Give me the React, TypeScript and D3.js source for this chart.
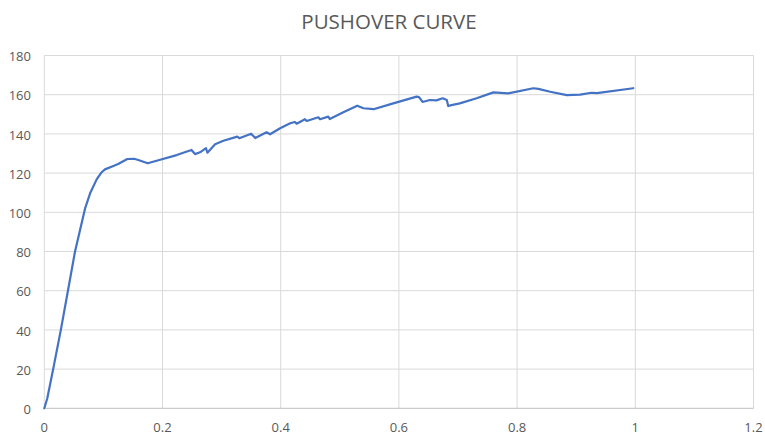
import React from "react";
import * as d3 from "d3";

const title = "PUSHOVER CURVE";
const xTicks = [0, 0.2, 0.4, 0.6, 0.8, 1, 1.2];
const yTicks = [0, 20, 40, 60, 80, 100, 120, 140, 160, 180];

const displacement = [
  0, 0.005, 0.015, 0.028, 0.04, 0.052, 0.0605, 0.069, 0.0775, 0.0886, 0.0965, 0.1027, 0.1168,
  0.125, 0.1405, 0.152, 0.159, 0.175, 0.1946, 0.224, 0.249, 0.255, 0.2635, 0.2736, 0.276, 0.289,
  0.303, 0.3266, 0.33, 0.35, 0.357, 0.376, 0.382, 0.399, 0.416, 0.424, 0.427, 0.441, 0.444, 0.4637,
  0.4665, 0.4805, 0.483, 0.506, 0.5295, 0.54, 0.557, 0.5905, 0.63, 0.634, 0.64, 0.6525, 0.6635,
  0.674, 0.681, 0.6835, 0.689, 0.703, 0.7315, 0.76, 0.785, 0.8275, 0.836, 0.856, 0.884, 0.9065,
  0.926, 0.935, 0.9965,
];
const baseShear = [
  0, 5, 20, 40, 60, 80, 91, 102, 109.7, 116.8, 120.3, 121.9, 123.6,
  124.6, 127.2, 127.3, 126.7, 125, 126.7, 129.2, 131.8, 129.7, 130.6, 132.7, 130.4, 134.7,
  136.5, 138.6, 137.8, 140.1, 137.9, 140.8, 139.8, 142.9, 145.4, 146.1, 145.2, 147.5, 146.6, 148.5,
  147.5, 148.8, 147.6, 151, 154.4, 153.1, 152.6, 155.6, 159, 158.8, 156.3, 157.3, 157.1,
  158.2, 157.3, 154.2, 154.7, 155.6, 158.2, 161.2, 160.7, 163.3, 163, 161.5, 159.8, 160,
  161, 160.8, 163.3,
];

const W = 765;
const H = 441;
const left = 44.3;
const right = 753.5;
const top = 55.5;
const bottom = 408.3;

export default function App() {
  const x = d3.scaleLinear().domain([0, 1.2]).range([left, right]);
  const y = d3.scaleLinear().domain([0, 180]).range([bottom, top]);
  const pts: [number, number][] = displacement.map((d, i) => [d, baseShear[i]]);
  const line = d3
    .line<[number, number]>()
    .x((d) => x(d[0]))
    .y((d) => y(d[1]))
    .curve(d3.curveLinear);
  const font = "'Open Sans', 'Noto Sans', sans-serif";
  return (
    <svg
      width={W}
      height={H}
      style={{ position: "absolute", left: 0, top: 0, background: "#fff" }}
    >
      <rect x={0} y={0} width={W} height={H} fill="#fff" />
      <text
        x={389}
        y={29}
        textAnchor="middle"
        fontFamily={font}
        fontSize={20.5}
        fill="#595959"
      >
        {title}
      </text>
      {yTicks.map((t) => (
        <g key={"y" + t}>
          {t !== 0 && (
            <line x1={left} x2={right} y1={y(t)} y2={y(t)} stroke="#d9d9d9" strokeWidth={1} />
          )}
          <text
            x={31}
            y={y(t) + 5.6}
            textAnchor="end"
            fontFamily={font}
            fontSize={13}
            fill="#595959"
          >
            {t}
          </text>
        </g>
      ))}
      {xTicks.map((t) => (
        <g key={"x" + t}>
          <line x1={x(t)} x2={x(t)} y1={top} y2={bottom} stroke="#d9d9d9" strokeWidth={1} />
          <text
            x={x(t)}
            y={432}
            textAnchor="middle"
            fontFamily={font}
            fontSize={13}
            fill="#595959"
          >
            {t}
          </text>
        </g>
      ))}
      <line x1={left} x2={right} y1={bottom} y2={bottom} stroke="#bfbfbf" strokeWidth={1} />
      <path d={line(pts) || ""} fill="none" stroke="#4472c4" strokeWidth={2.2} strokeLinejoin="round" strokeLinecap="round" />
    </svg>
  );
}
